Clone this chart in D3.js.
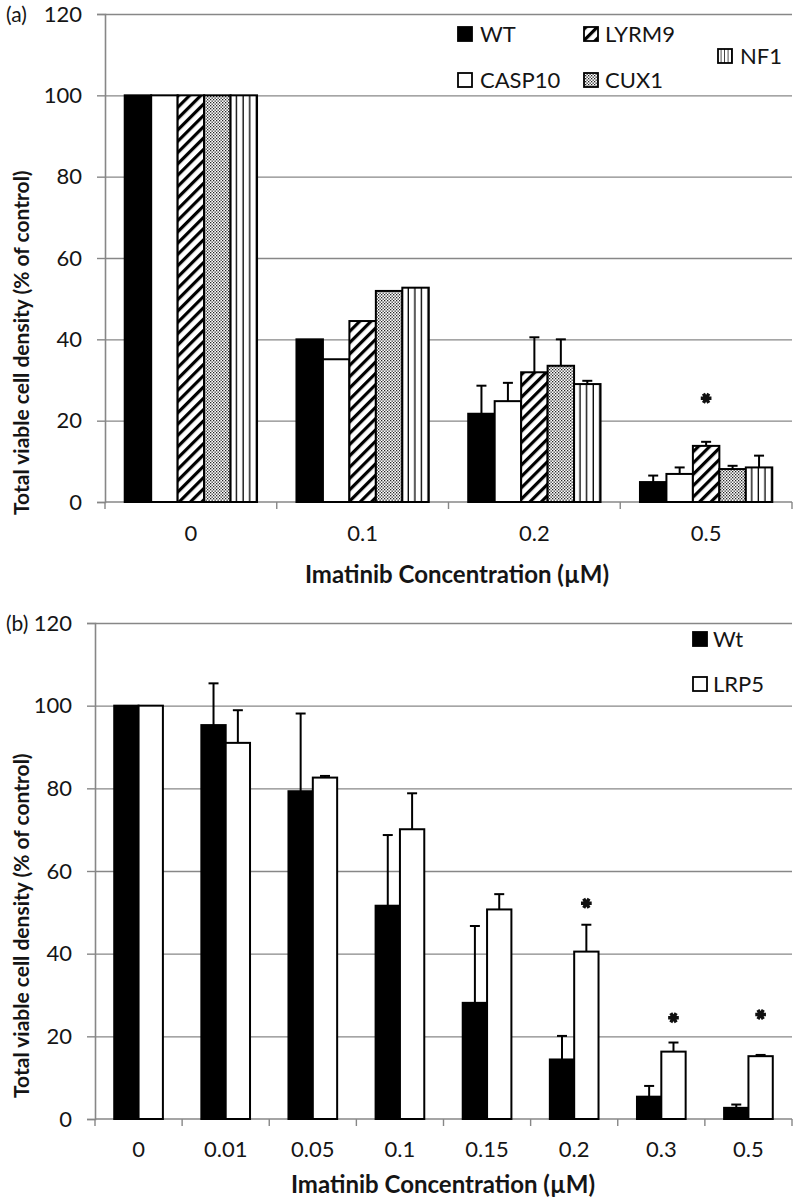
<!DOCTYPE html>
<html><head><meta charset="utf-8">
<script src="https://cdn.jsdelivr.net/npm/d3@7"></script>
<style>body{margin:0;background:#fff} svg{display:block} text{font-family:Lato,"Open Sans",sans-serif}</style>
</head><body><svg id="c" width="800" height="1204"></svg>
<script>
// ---------- data ----------
const categoriesA = ["0","0.1","0.2","0.5"];
const seriesA = ["WT","CASP10","LYRM9","CUX1","NF1"];
const wtA     = [100, 40.0, 21.7, 4.9];
const casp10A = [100, 35.1, 24.8, 6.9];
const lyrm9A  = [100, 44.5, 31.9, 13.8];
const cux1A   = [100, 51.9, 33.5, 8.1];
const nf1A    = [100, 52.7, 29.0, 8.5];
const wtErrA     = [0, 0, 6.9, 1.6];
const casp10ErrA = [0, 0, 4.5, 1.6];
const lyrm9ErrA  = [0, 0, 8.6, 1.0];
const cux1ErrA   = [0, 0, 6.5, 0.8];
const nf1ErrA    = [0, 0, 0.8, 2.9];
const starCatsA = ["0.5"];
const starSeriesA = ["LYRM9"];
const starValsA = [25.5];

const categoriesB = ["0","0.01","0.05","0.1","0.15","0.2","0.3","0.5"];
const seriesB = ["Wt","LRP5"];
const wtB   = [100, 95.3, 79.3, 51.6, 28.1, 14.4, 5.4, 2.7];
const lrp5B = [100, 91.0, 82.6, 70.1, 50.7, 40.5, 16.3, 15.2];
const wtErrB   = [0, 10.1, 18.8, 17.1, 18.6, 5.7, 2.6, 0.8];
const lrp5ErrB = [0, 7.9, 0.4, 8.7, 3.7, 6.5, 2.2, 0.3];
const starCatsB = ["0.2","0.3","0.5"];
const starSeriesB = ["LRP5","LRP5","LRP5"];
const starValsB = [52.2, 24.5, 25.3];

const yTicks = [0,20,40,60,80,100,120];
const yTitle = "Total viable cell density (% of control)";
const xTitle = "Imatinib Concentration (µM)";

// ---------- setup ----------
const svg = d3.select("#c");
const defs = svg.append("defs");
const pd = defs.append("pattern").attr("id","diag").attr("patternUnits","userSpaceOnUse")
  .attr("width",8).attr("height",8).attr("patternTransform","rotate(45)");
pd.append("rect").attr("width",8).attr("height",8).attr("fill","#fff");
pd.append("rect").attr("x",0).attr("width",3.2).attr("height",8).attr("fill","#000");
const pt = defs.append("pattern").attr("id","dots").attr("patternUnits","userSpaceOnUse")
  .attr("width",3).attr("height",3);
pt.append("rect").attr("width",3).attr("height",3).attr("fill","#fff");
pt.append("rect").attr("x",0).attr("y",0).attr("width",1.3).attr("height",1.3).attr("fill","#222");
pt.append("rect").attr("x",1.5).attr("y",1.5).attr("width",1.3).attr("height",1.3).attr("fill","#222");
const pv = defs.append("pattern").attr("id","vstripe").attr("patternUnits","objectBoundingBox")
  .attr("patternContentUnits","objectBoundingBox").attr("width",0.25).attr("height",1);
pv.append("rect").attr("width",0.25).attr("height",1).attr("fill","#fff");
pv.append("rect").attr("x",0.2).attr("width",0.075).attr("height",1).attr("fill","#000");

const fills = {WT:"#000", CASP10:"#fff", LYRM9:"url(#diag)", CUX1:"url(#dots)", NF1:"url(#vstripe)", Wt:"#000", LRP5:"#fff"};
const grid = "#878787";
const txt = "#151515";

function drawPanel(cfg){
  const g = svg.append("g");
  const y = d3.scaleLinear().domain([0,120]).range([cfg.bottom, cfg.top]);
  const x = d3.scaleBand().domain(cfg.categories).range([cfg.left, cfg.right]).padding(0);
  const xi = d3.scaleBand().domain(cfg.series).range([0, x.bandwidth()]).paddingInner(0).paddingOuter(cfg.outerPad);

  g.append("g").attr("transform",`translate(${cfg.left},0)`)
    .call(d3.axisLeft(y).tickValues(yTicks.filter(v=>v>0)).tickSize(-(cfg.right-cfg.left)).tickFormat(""))
    .call(s=>s.select(".domain").remove())
    .call(s=>s.selectAll("line").attr("stroke",grid).attr("stroke-width",1.4));
  g.append("g").attr("transform",`translate(${cfg.left},0)`)
    .call(d3.axisLeft(y).tickValues(yTicks).tickSize(8).tickPadding(15))
    .call(s=>s.select(".domain").attr("stroke",grid).attr("stroke-width",1.6))
    .call(s=>s.selectAll("line").attr("stroke",grid).attr("stroke-width",1.4))
    .call(s=>s.selectAll("text").attr("font-size",22).attr("fill",txt).attr("font-family","Lato"));
  g.append("line").attr("x1",cfg.left).attr("x2",cfg.right).attr("y1",y(0)).attr("y2",y(0))
    .attr("stroke",grid).attr("stroke-width",1.6);
  const bounds = cfg.categories.map(c=>x(c)).concat([x.range()[1]]);
  g.selectAll(".xt").data(bounds).enter().append("line")
    .attr("x1",d=>d).attr("x2",d=>d).attr("y1",y(0)).attr("y2",y(0)+7)
    .attr("stroke",grid).attr("stroke-width",1.4);
  g.append("g").attr("transform",`translate(0,${y(0)})`)
    .call(d3.axisBottom(x).tickSize(0).tickPadding(cfg.xLabelPad))
    .call(s=>s.select(".domain").remove())
    .call(s=>s.selectAll("text").attr("font-size",22).attr("fill",txt).attr("font-family","Lato"));

  const rows = [];
  cfg.categories.forEach((c,i)=>cfg.series.forEach((s,j)=>rows.push({c, s, v:cfg.values[j][i], e:cfg.errors[j][i]})));
  g.selectAll(".bar").data(rows).enter().append("rect")
    .attr("x",d=>x(d.c)+xi(d.s)).attr("width",xi.bandwidth())
    .attr("y",d=>y(d.v)).attr("height",d=>y(0)-y(d.v))
    .attr("fill",d=>fills[d.s]).attr("stroke","#000").attr("stroke-width",2);
  const eb = rows.filter(d=>d.e>0);
  g.selectAll(".ev").data(eb).enter().append("line")
    .attr("x1",d=>x(d.c)+xi(d.s)+xi.bandwidth()/2).attr("x2",d=>x(d.c)+xi(d.s)+xi.bandwidth()/2)
    .attr("y1",d=>y(d.v)).attr("y2",d=>y(d.v+d.e)).attr("stroke","#000").attr("stroke-width",2);
  g.selectAll(".ec").data(eb).enter().append("line")
    .attr("x1",d=>x(d.c)+xi(d.s)+xi.bandwidth()/2-5).attr("x2",d=>x(d.c)+xi(d.s)+xi.bandwidth()/2+5)
    .attr("y1",d=>y(d.v+d.e)).attr("y2",d=>y(d.v+d.e)).attr("stroke","#000").attr("stroke-width",2);
  const stars = cfg.starCats.map((c,i)=>({c, s:cfg.starSeries[i], v:cfg.starVals[i]}));
  g.selectAll(".star").data(stars).enter().append("path")
    .attr("d", d3.symbol().type(d3.symbolAsterisk).size(80))
    .attr("transform",d=>`translate(${x(d.c)+xi(d.s)+xi.bandwidth()/2},${y(d.v)}) rotate(90)`)
    .attr("fill","none").attr("stroke","#111").attr("stroke-width",3.4);

  g.append("text").attr("transform",`translate(29,${cfg.yTitleStart}) rotate(-90)`)
    .attr("text-anchor","start").attr("font-size",21).attr("font-weight","bold").attr("fill",txt)
    .text(yTitle);
  g.append("text").attr("x",cfg.xTitleX).attr("y",cfg.xTitleY).attr("text-anchor","middle")
    .attr("font-size",24).attr("font-weight","bold").attr("fill",txt).text(xTitle);
  g.append("text").attr("x",6).attr("y",cfg.top+8).attr("font-size",21).attr("fill",txt).text(cfg.tag);

  cfg.legend.forEach(l=>{
    g.append("rect").attr("x",l.x).attr("y",l.y).attr("width",14).attr("height",14)
      .attr("fill",fills[l.s]).attr("stroke","#000").attr("stroke-width",1.8);
    g.append("text").attr("x",l.x+l.dx).attr("y",l.y+14.5).attr("font-size",22).attr("fill",txt).text(l.s);
  });
}

drawPanel({
  categories: categoriesA, series: seriesA,
  values: [wtA, casp10A, lyrm9A, cux1A, nf1A],
  errors: [wtErrA, casp10ErrA, lyrm9ErrA, cux1ErrA, nf1ErrA],
  starCats: starCatsA, starSeries: starSeriesA, starVals: starValsA,
  left:105, right:792, top:14, bottom:502, outerPad:0.745, xLabelPad:23,
  yTitleStart:515, xTitleX:457, xTitleY:583, tag:"(a)",
  legend:[{s:"WT",x:458,y:27,dx:22},{s:"LYRM9",x:584,y:27,dx:21},{s:"CASP10",x:458,y:73,dx:22},{s:"CUX1",x:584,y:73,dx:21},{s:"NF1",x:718,y:49,dx:22}]
});
drawPanel({
  categories: categoriesB, series: seriesB,
  values: [wtB, lrp5B],
  errors: [wtErrB, lrp5ErrB],
  starCats: starCatsB, starSeries: starSeriesB, starVals: starValsB,
  left:95, right:792, top:623, bottom:1119, outerPad:0.79, xLabelPad:22,
  yTitleStart:1098, xTitleX:443, xTitleY:1193, tag:"(b)",
  legend:[{s:"Wt",x:693,y:632,dx:20},{s:"LRP5",x:693,y:677,dx:20}]
});
</script></body></html>
